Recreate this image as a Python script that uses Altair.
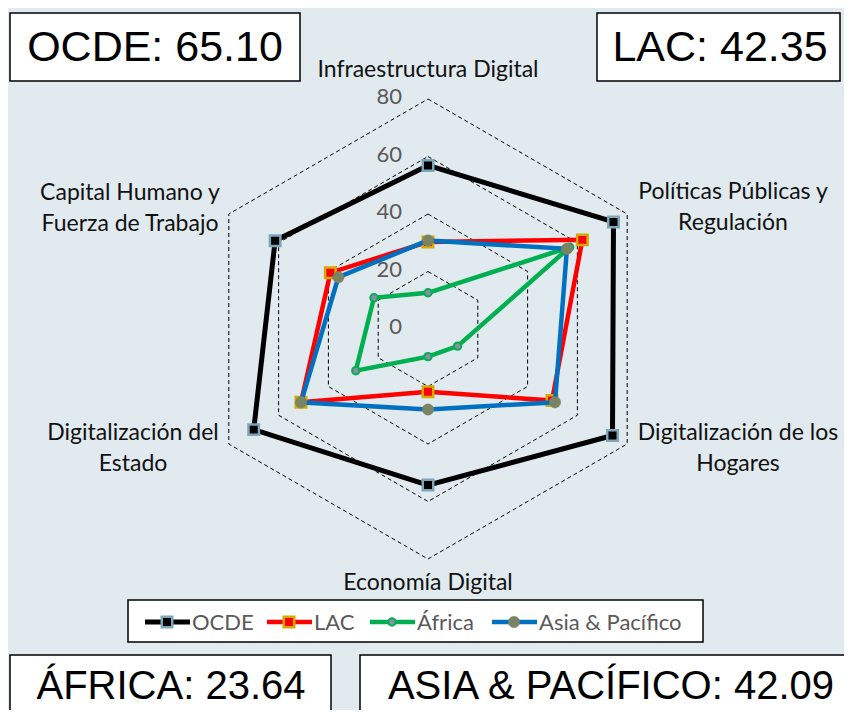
import math
import altair as alt
import pandas as pd

# ---------------- data ----------------
categories = [
    "Infraestructura Digital",
    "Políticas Públicas y Regulación",
    "Digitalización de los Hogares",
    "Economía Digital",
    "Digitalización del Estado",
    "Capital Humano y Fuerza de Trabajo",
]
series = ["OCDE", "LAC", "África", "Asia & Pacífico"]
ocde = [56.9, 74.5, 74.1, 54.3, 70.0, 61.4]
lac = [30.3, 62.0, 49.8, 21.8, 51.0, 39.2]
africa = [12.6, 56.9, 11.9, 9.6, 29.0, 21.7]
asia = [30.8, 55.8, 51.0, 28.0, 51.0, 36.0]
grid_levels = [20, 40, 60, 80]
tick_values = [0, 20, 40, 60, 80]
box_names = ["OCDE", "LAC", "ÁFRICA", "ASIA & PACÍFICO"]
box_scores = [65.10, 42.35, 23.64, 42.09]

values = {"OCDE": ocde, "LAC": lac, "África": africa, "Asia & Pacífico": asia}

# ---------------- geometry / scales ----------------
W, H = 836, 702
CX, CY = 420, 321          # centre of the radar inside the chart
K = 2.875                  # px per unit
xscale = alt.Scale(domain=[-CX / K, (W - CX) / K], range=[0, W], nice=False, zero=False)
yscale = alt.Scale(domain=[-(H - CY) / K, CY / K], range=[H, 0], nice=False, zero=False)

N = len(categories)
rows = []
for s in series:
    vals = values[s]
    for i in range(N + 1):
        rows.append({"series": s, "idx": i, "cat": categories[i % N], "value": vals[i % N]})
df = pd.DataFrame(rows)

grid_rows = [{"level": g, "idx": i, "value": g} for g in grid_levels for i in range(N + 1)]
gdf = pd.DataFrame(grid_rows)

angle_expr = "PI/2 - datum.idx*PI/3"

def polar(chart):
    return chart.transform_calculate(
        ang=angle_expr
    ).transform_calculate(
        px="datum.value*cos(datum.ang)", py="datum.value*sin(datum.ang)"
    )

X = alt.X("px:Q", scale=xscale, axis=None)
Y = alt.Y("py:Q", scale=yscale, axis=None)

grid = polar(alt.Chart(gdf)).mark_line(
    color="#000000", strokeWidth=1, strokeDash=[4, 3]
).encode(x=X, y=Y, detail="level:N", order="idx:Q")

style = {
    "OCDE": dict(line="#000000", lw=5, shape="square", fill="#000000", stroke="#7EA6BA", sw=2.5, size=110),
    "LAC": dict(line="#FF0000", lw=4.5, shape="square", fill="#FF0000", stroke="#D4A900", sw=2.5, size=110),
    "África": dict(line="#00B050", lw=4.5, shape="circle", fill="#8C8CA8", stroke="#00B050", sw=2, size=55),
    "Asia & Pacífico": dict(line="#0070C0", lw=4.5, shape="circle", fill="#7B8462", stroke="#7B8462", sw=0.5, size=130),
}

layers = [grid]
for s in series:
    st = style[s]
    base = polar(alt.Chart(df)).transform_filter(alt.datum.series == s)
    layers.append(base.mark_line(color=st["line"], strokeWidth=st["lw"], strokeJoin="miter").encode(
        x=X, y=Y, order="idx:Q"))
    layers.append(base.transform_filter("datum.idx < 6").mark_point(
        shape=st["shape"], filled=True, fill=st["fill"], stroke=st["stroke"],
        strokeWidth=st["sw"], size=st["size"], opacity=1
    ).encode(x=X, y=Y))

# tick labels
tdf = pd.DataFrame({"t": tick_values})
layers.append(alt.Chart(tdf).mark_text(
    align="right", baseline="middle", font="Lato", fontSize=22, color="#595959", dy=-2
).encode(x=alt.value(394), y=alt.Y("t:Q", scale=yscale, axis=None), text="t:Q"))

# category labels (annotation text)
label_lines = [
    ("Infraestructura Digital", 420, 62),
    ("Políticas Públicas y", 725, 184), ("Regulación", 725, 215),
    ("Digitalización de los", 730, 425), ("Hogares", 730, 456),
    ("Economía Digital", 420, 575),
    ("Digitalización del", 125, 425), ("Estado", 125, 456),
    ("Capital Humano y", 122, 185), ("Fuerza de Trabajo", 122, 216),
]
for txt, x, y in label_lines:
    layers.append(alt.Chart(pd.DataFrame({"t": [txt]})).mark_text(
        align="center", baseline="middle", font="Lato", fontSize=23, color="#111111"
    ).encode(x=alt.value(x), y=alt.value(y), text="t:N"))

# legend
layers.append(alt.Chart(pd.DataFrame({"a": [0]})).mark_rect(
    fill="white", stroke="black", strokeWidth=1.5
).encode(x=alt.value(120), x2=alt.value(695), y=alt.value(592), y2=alt.value(634)))
leg_x = [137, 259, 362, 484]
for s, lx in zip(series, leg_x):
    st = style[s]
    layers.append(alt.Chart(pd.DataFrame({"a": [0]})).mark_rule(
        color=st["line"], strokeWidth=st["lw"]
    ).encode(x=alt.value(lx), x2=alt.value(lx + 45), y=alt.value(614)))
    layers.append(alt.Chart(pd.DataFrame({"a": [0]})).mark_point(
        shape=st["shape"], filled=True, fill=st["fill"], stroke=st["stroke"],
        strokeWidth=st["sw"], size=st["size"], opacity=1
    ).encode(x=alt.value(lx + 22), y=alt.value(614)))
    layers.append(alt.Chart(pd.DataFrame({"t": [s]})).mark_text(
        align="left", baseline="middle", font="Lato", fontSize=22, color="#595959"
    ).encode(x=alt.value(lx + 47), y=alt.value(615), text="t:N"))

# score boxes
boxes = [
    (2, 292, 5, 73, 147, 40, 43),
    (589, 832, 5, 73, 712, 40, 43),
    (2, 323, 647, 712, 163, 679, 40),
    (352, 850, 647, 712, 603, 679, 40),
]
for name, score, (x1, x2, y1, y2, tx, ty, fs) in zip(box_names, box_scores, boxes):
    layers.append(alt.Chart(pd.DataFrame({"a": [0]})).mark_rect(
        fill="white", stroke="black", strokeWidth=1.5
    ).encode(x=alt.value(x1), x2=alt.value(x2), y=alt.value(y1), y2=alt.value(y2)))
    layers.append(alt.Chart(pd.DataFrame({"t": [f"{name}: {score:.2f}"]})).mark_text(
        align="center", baseline="middle", font="Liberation Sans",
        fontSize=fs, color="#000000"
    ).encode(x=alt.value(tx), y=alt.value(ty), text="t:N"))

chart = alt.layer(*layers).properties(
    width=W, height=H, padding=0, autosize=alt.AutoSizeParams(type="none"),
    background="#E1EAEE",
).configure_view(stroke=None)

chart.save("out.html", embed_options={"renderer": "svg", "actions": False})
